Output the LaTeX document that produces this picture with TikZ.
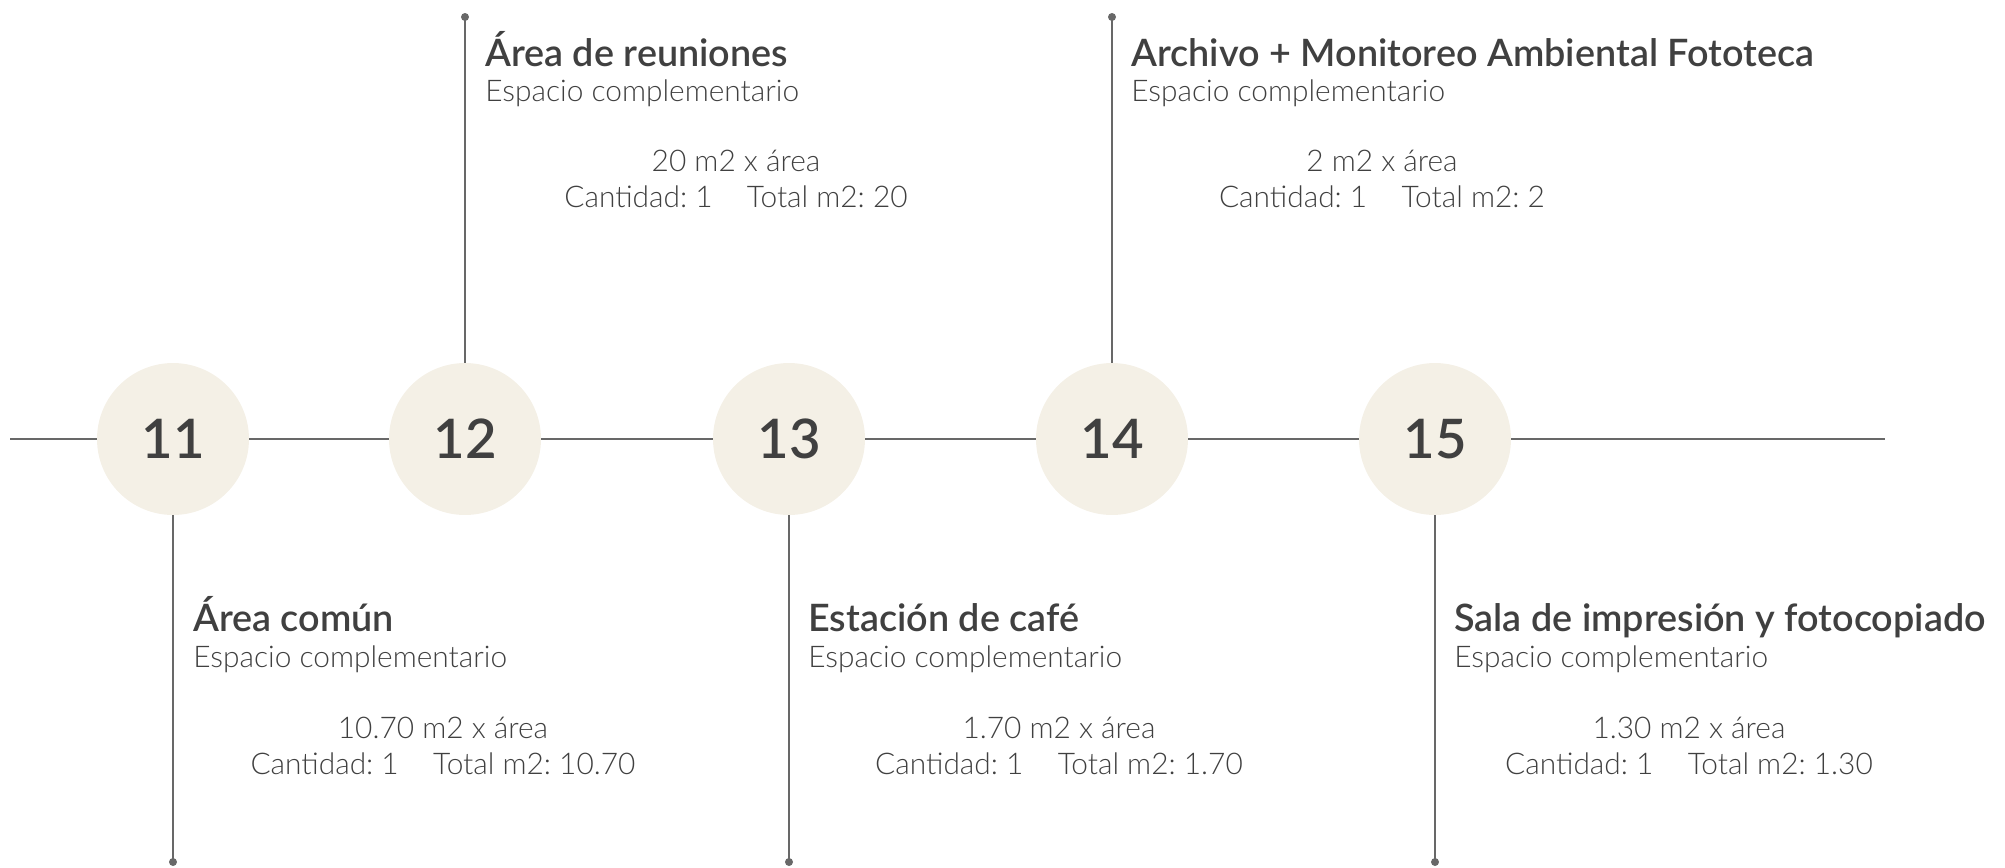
\documentclass[tikz,border=0pt]{standalone}
\usepackage{fontspec}
\setmainfont{Lato}
\newfontfamily\lightfont{Lato Light}
\newfontfamily\semifont{Lato Semibold}
\usetikzlibrary{positioning}
\definecolor{planInk}{HTML}{404040}
\definecolor{planLine}{HTML}{686868}
\definecolor{planCream}{HTML}{F4F0E6}
\frenchspacing

\begin{document}
\begin{tikzpicture}[x=0.02cm,y=-0.02cm]
  \tikzstyle{hub}=[circle,fill=planCream,inner sep=0,minimum size=3.04cm,text=planInk,font=\semifont\fontsize{31}{36}\selectfont]
  \tikzstyle{roomtitle}=[anchor=base west,inner sep=0,text=planInk,font=\semifont\fontsize{21.5}{25}\selectfont]
  \tikzstyle{roomkind}=[anchor=base west,inner sep=0,text=planInk,font=\lightfont\fontsize{17}{20}\selectfont]
  \tikzstyle{roomdata}=[anchor=base,inner sep=0,text=planInk,font=\lightfont\fontsize{17}{20}\selectfont]
  \tikzstyle{stem}=[draw=planLine,line width=1.1pt]
  \useasboundingbox (0,0) rectangle (2005,867);
  % timeline
  \coordinate (start) at (10,439);
  \coordinate (finish) at (1885,439);
  \node[hub] (c11) at (173,439) {11};
  \node[hub] (c12) at (465,439) {12};
  \node[hub] (c13) at (789,439) {13};
  \node[hub] (c14) at (1112,439) {14};
  \node[hub] (c15) at (1435,439) {15};
  \foreach \a/\b in {start/c11,c11/c12,c12/c13,c13/c14,c14/c15,c15/finish}{\draw[stem] (\a) -- (\b);}
  % stems with end dots
  \coordinate (e11) at (173,862);
  \coordinate (e12) at (465,17);
  \coordinate (e13) at (789,862);
  \coordinate (e14) at (1112,17);
  \coordinate (e15) at (1435,862);
  \foreach \n in {11,12,13,14,15}{
    \draw[stem] (c\n) -- (e\n);
    \fill[planLine] (e\n) circle[radius=0.08cm];
  }
  % 11
  \node[roomtitle] (t11) at (193,631) {Área común};
  \node[roomkind] (k11) at (193,667) {Espacio complementario};
  \node[roomdata] (a11) at (443,738) {10.70 m2 x área};
  \node[roomdata] (q11) at (443,774) {Cantidad: 1\hspace{1.15em}Total m2: 10.70};
  % 12
  \node[roomtitle] (t12) at (485,66) {Área de reuniones};
  \node[roomkind] (k12) at (485,101) {Espacio complementario};
  \node[roomdata] (a12) at (736,171) {20 m2 x área};
  \node[roomdata] (q12) at (736,207) {Cantidad: 1\hspace{1.15em}Total m2: 20};
  % 13
  \node[roomtitle] (t13) at (808,631) {Estación de café};
  \node[roomkind] (k13) at (808,667) {Espacio complementario};
  \node[roomdata] (a13) at (1059,738) {1.70 m2 x área};
  \node[roomdata] (q13) at (1059,774) {Cantidad: 1\hspace{1.15em}Total m2: 1.70};
  % 14
  \node[roomtitle] (t14) at (1131,66) {Archivo + Monitoreo Ambiental Fototeca};
  \node[roomkind] (k14) at (1131,101) {Espacio complementario};
  \node[roomdata] (a14) at (1382,171) {2 m2 x área};
  \node[roomdata] (q14) at (1382,207) {Cantidad: 1\hspace{1.15em}Total m2: 2};
  % 15
  \node[roomtitle] (t15) at (1454,631) {Sala de impresión y fotocopiado};
  \node[roomkind] (k15) at (1454,667) {Espacio complementario};
  \node[roomdata] (a15) at (1689,738) {1.30 m2 x área};
  \node[roomdata] (q15) at (1689,774) {Cantidad: 1\hspace{1.15em}Total m2: 1.30};
\end{tikzpicture}
\end{document}
